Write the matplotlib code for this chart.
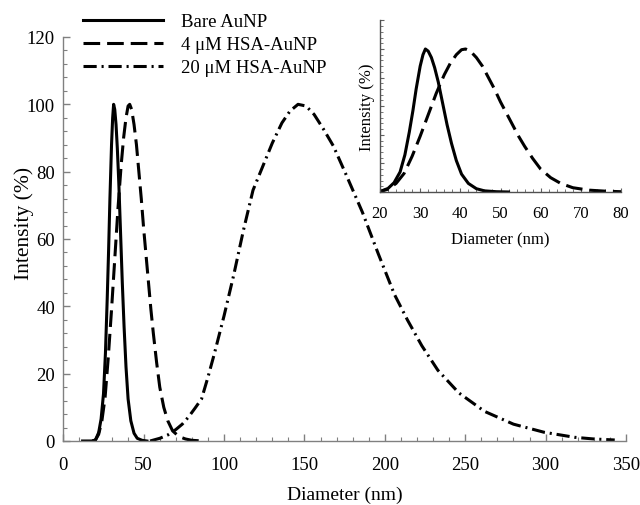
import matplotlib
matplotlib.use("Agg")
import matplotlib.pyplot as plt
from matplotlib.ticker import MultipleLocator, NullFormatter

plt.rcParams["font.family"] = ["Liberation Serif", "DejaVu Serif"]
plt.rcParams["lines.scale_dashes"] = False

# size distributions (diameter nm, intensity %)
bare_x = [12, 18, 20, 22, 23.5, 25, 26.2, 27.3, 28.2, 29, 30, 30.7, 31.3, 32, 32.8,
          33.6, 34.5, 35.6, 36.7, 37.8, 39, 40.3, 42, 44, 46, 49, 52]
bare_y = [0, 0, 0.3, 2.5, 6.5, 14, 26, 42, 57, 72, 88, 96, 100, 98.5, 94,
          87, 77, 62, 47, 34, 22, 12.5, 6, 2.3, 0.8, 0.2, 0]

hsa4_x = [18, 20, 22, 24, 26, 28, 30, 32, 34, 36, 37.5, 39, 40.3, 41.3, 42.5, 44,
          45.5, 47, 48.5, 50, 51.5, 53, 54.5, 56, 58, 60, 62.5, 65, 68, 72, 76, 80, 87]
hsa4_y = [0, 0.3, 2, 6, 13, 25, 39, 54, 69, 82, 90, 96, 99.5, 100, 98.5, 94,
          88, 80, 72, 63, 55, 47, 39, 32, 23.5, 16, 10, 6, 3, 1.3, 0.6, 0.2, 0]

hsa20_x = [54, 60, 65, 70, 74, 78, 82, 86, 90, 94, 100, 106, 112, 118, 124, 130,
           136, 141, 146, 151, 156, 162, 168, 176, 186, 196, 206, 214, 223, 233,
           246, 262, 280, 299, 318, 330, 343]
hsa20_y = [0, 0.8, 1.8, 3.4, 5, 7.2, 9.8, 12.5, 19, 26, 37.2, 49.3, 62.5, 74.5, 81.5, 88.5,
           94.5, 98, 100, 99.5, 97, 92.5, 87.6, 79, 68, 55.5, 43.5, 36, 28.3, 21,
           14.3, 8.8, 5, 2.6, 1.1, 0.6, 0.3]

labels = ["Bare AuNP", "4 \u03bcM HSA-AuNP", "20 \u03bcM HSA-AuNP"]

lw = 2.2
dash_style = (0, (12, 5))
dashdot_style = (0, (9.5, 3.5, 1.5, 3.5))

W, H = 640, 506
fig = plt.figure(figsize=(W / 100, H / 100), dpi=100)

# main axes
ax = fig.add_axes([63.3 / W, 1 - 442 / H, (626 - 63.3) / W, (442 - 38) / H])
ax.plot(bare_x, bare_y, color="black", lw=lw, ls="-", label=labels[0])
ax.plot(hsa4_x, hsa4_y, color="black", lw=lw, ls=dash_style, label=labels[1])
ax.plot(hsa20_x, hsa20_y, color="black", lw=lw, ls=dashdot_style, label=labels[2])

ax.set_xlim(0, 350)
ax.set_ylim(0, 120)
ax.xaxis.set_major_locator(MultipleLocator(50))
ax.xaxis.set_minor_locator(MultipleLocator(10))
ax.yaxis.set_major_locator(MultipleLocator(20))
ax.yaxis.set_minor_locator(MultipleLocator(4))
for s in ["top", "right"]:
    ax.spines[s].set_visible(False)
for s in ["left", "bottom"]:
    ax.spines[s].set_color("#808080")
    ax.spines[s].set_linewidth(1.0)
ax.tick_params(which="both", direction="in", color="#808080", labelsize=13.5)
ax.tick_params(which="major", length=5, width=1.0)
ax.tick_params(which="minor", length=3, width=0.8)
ax.tick_params(axis="x", pad=11)
ax.tick_params(axis="y", pad=6)
ax.set_xlabel("Diameter (nm)", fontsize=14, labelpad=9)
ax.set_ylabel("Intensity (%)", fontsize=15.5)
ax.yaxis.set_label_coords(-0.052, 0.54)

ax.legend(loc="upper left", bbox_to_anchor=(83 / W, 1 - 14 / H),
          bbox_transform=fig.transFigure, frameon=False, fontsize=13.5,
          borderpad=0, borderaxespad=0, handlelength=4.27, handletextpad=0.96,
          labelspacing=0.32)

# inset
ins = fig.add_axes([380 / W, 1 - 193 / H, 241 / W, 171.6 / H])
ins.patch.set_alpha(0)
ins.plot(bare_x, bare_y, color="black", lw=lw, ls="-")
ins.plot(hsa4_x, hsa4_y, color="black", lw=lw, ls=dash_style)
ins.set_xlim(20, 80)
ins.set_ylim(0, 120)
ins.xaxis.set_major_locator(MultipleLocator(10))
ins.xaxis.set_minor_locator(MultipleLocator(2))
ins.yaxis.set_major_locator(MultipleLocator(20))
ins.yaxis.set_minor_locator(MultipleLocator(4))
ins.yaxis.set_major_formatter(NullFormatter())
for s in ["top", "right"]:
    ins.spines[s].set_visible(False)
for s in ["left", "bottom"]:
    ins.spines[s].set_color("#505050")
    ins.spines[s].set_linewidth(1.0)
ins.tick_params(which="both", direction="in", color="#606060", labelsize=12)
ins.tick_params(which="major", length=3, width=0.8)
ins.tick_params(which="minor", length=2, width=0.6)
ins.tick_params(axis="x", pad=9)
ins.set_xlabel("Diameter (nm)", fontsize=12, labelpad=8)
ins.set_ylabel("Intensity (%)", fontsize=12, labelpad=0)

fig.savefig("out.png", dpi=100)
